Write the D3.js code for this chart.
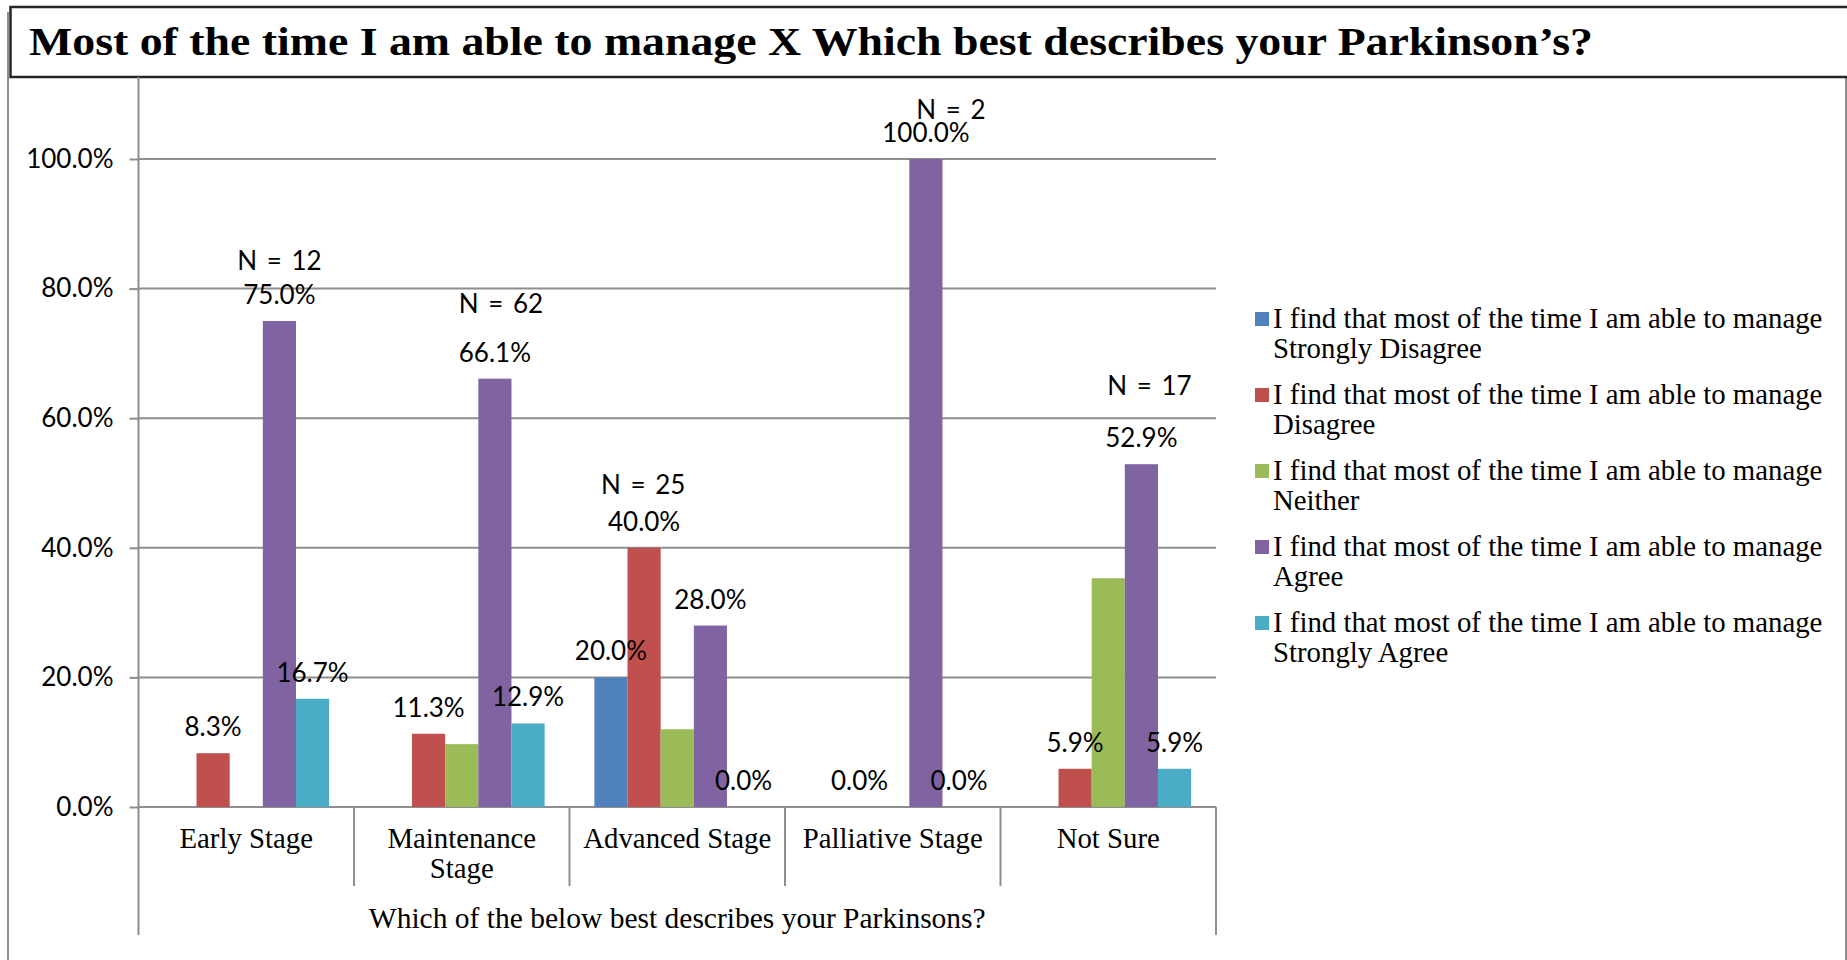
<!DOCTYPE html>
<html>
<head>
<meta charset="utf-8">
<script src="https://cdn.jsdelivr.net/npm/d3@7"></script>
<style>
  html, body { margin: 0; padding: 0; background: #fff; }
  svg { display: block; }
</style>
</head>
<body>
<svg id="chart" width="1847" height="960"></svg>
<script>
// ---- data ----
const categories = ["Early Stage", "Maintenance Stage", "Advanced Stage", "Palliative Stage", "Not Sure"];
const seriesNames = [
  "I find that most of the time I am able to manage Strongly Disagree",
  "I find that most of the time I am able to manage Disagree",
  "I find that most of the time I am able to manage Neither",
  "I find that most of the time I am able to manage Agree",
  "I find that most of the time I am able to manage Strongly Agree"
];
const strongDisagree = [0, 0, 20.0, 0, 0];
const disagree       = [8.3, 11.3, 40.0, 0, 5.9];
const neither        = [0, 9.7, 12.0, 0, 35.3];
const agree          = [75.0, 66.1, 28.0, 100.0, 52.9];
const strongAgree    = [16.7, 12.9, 0, 0, 5.9];
// which bars carry a value label
const strongDisagreeLabelled = [false, false, true, false, false];
const disagreeLabelled       = [true, true, true, true, true];
const neitherLabelled        = [false, false, false, false, false];
const agreeLabelled          = [true, true, true, true, true];
const strongAgreeLabelled    = [true, true, true, true, true];
const sampleSizes = [12, 62, 25, 2, 17];
const yTicks = [0, 20, 40, 60, 80, 100];
const titleText = "Most of the time I am able to manage X Which best describes your Parkinson\u2019s?";
const axisTitle = "Which of the below best describes your Parkinsons?";

// ---- styling / layout ----
const colors = ["#4F81BD", "#C0504D", "#9BBB59", "#8064A2", "#4BACC6"];
const seriesValues = [strongDisagree, disagree, neither, agree, strongAgree];
const seriesLabelled = [strongDisagreeLabelled, disagreeLabelled, neitherLabelled, agreeLabelled, strongAgreeLabelled];
// nudges for the "N = " annotations: [dx, gap above the value label]
const nLabelNudge = [[0, 34], [6, 49], [-1, 37], [25, 23], [8, 52]];

const serif = "'Liberation Serif', 'Times New Roman', serif";
const sans = "Lato, 'Noto Sans', sans-serif";
const serifSize = 28.8;
const gridColor = "#8e8e8e";

const plot = { left: 138.5, right: 1216, top: 159, bottom: 807 };

const svg = d3.select("#chart");
svg.append("rect").attr("width", 1847).attr("height", 960).attr("fill", "#fff");

// outer frame lines
svg.append("line").attr("x1", 8).attr("x2", 8).attr("y1", 12).attr("y2", 960)
  .attr("stroke", gridColor).attr("stroke-width", 2);
svg.append("line").attr("x1", 1846).attr("x2", 1846).attr("y1", 77).attr("y2", 960)
  .attr("stroke", gridColor).attr("stroke-width", 2);

// title box
svg.append("rect").attr("x", 10.5).attr("y", 7).attr("width", 1850).attr("height", 70)
  .attr("fill", "#fff").attr("stroke", "#262626").attr("stroke-width", 2.5);
svg.append("text")
  .attr("x", 29).attr("y", 55)
  .attr("font-family", serif).attr("font-weight", "bold").attr("font-size", 41)
  .attr("textLength", 1564).attr("lengthAdjust", "spacingAndGlyphs")
  .attr("fill", "#000")
  .text(titleText);

// scales
const y = d3.scaleLinear().domain([0, 100]).range([plot.bottom, plot.top]);
const x0 = d3.scaleBand().domain(categories).range([plot.left, plot.right]).paddingInner(0).paddingOuter(0);
const bw = x0.bandwidth();
const x1 = d3.scaleBand().domain(d3.range(seriesNames.length))
  .range([bw * 0.75 / 6.5, bw * 5.75 / 6.5]).padding(0);

// gridlines
svg.append("g").selectAll("line").data(yTicks).join("line")
  .attr("x1", plot.left).attr("x2", plot.right)
  .attr("y1", d => y(d)).attr("y2", d => y(d))
  .attr("stroke", gridColor).attr("stroke-width", 2);

// y axis
const yAxis = svg.append("g").attr("transform", `translate(${plot.left},0)`)
  .call(d3.axisLeft(y).tickValues(yTicks).tickSize(9).tickPadding(16)
    .tickFormat(d => d3.format(".1f")(d) + "%"));
yAxis.select(".domain").remove();
yAxis.selectAll(".tick line").attr("stroke", gridColor).attr("stroke-width", 2);
yAxis.selectAll(".tick text").attr("font-family", sans).attr("font-size", 26).attr("fill", "#000");
svg.append("line").attr("x1", plot.left).attr("x2", plot.left).attr("y1", 77).attr("y2", 935)
  .attr("stroke", gridColor).attr("stroke-width", 2);
svg.append("line").attr("x1", plot.right).attr("x2", plot.right).attr("y1", plot.bottom).attr("y2", 935)
  .attr("stroke", gridColor).attr("stroke-width", 2);

// category separators
const bounds = categories.slice(1).map(c => x0(c));
svg.append("g").selectAll("line").data(bounds).join("line")
  .attr("x1", d => d).attr("x2", d => d)
  .attr("y1", plot.bottom).attr("y2", 886)
  .attr("stroke", gridColor).attr("stroke-width", 2);

// category labels (wrapped when too wide)
const catG = svg.append("g");
categories.forEach(c => {
  const t = catG.append("text")
    .attr("x", x0(c) + bw / 2).attr("y", 848)
    .attr("text-anchor", "middle")
    .attr("font-family", serif).attr("font-size", serifSize).attr("fill", "#000")
    .text(c);
  if (t.node().getComputedTextLength() > bw * 0.93) {
    const words = c.split(" ");
    t.text(null);
    const lines = [];
    let cur = [];
    words.forEach(w => {
      const test = cur.concat([w]).join(" ");
      t.text(test);
      if (t.node().getComputedTextLength() > bw * 0.93 && cur.length) {
        lines.push(cur.join(" "));
        cur = [w];
      } else cur.push(w);
    });
    lines.push(cur.join(" "));
    t.text(null);
    lines.forEach((ln, i) => {
      t.append("tspan").attr("x", x0(c) + bw / 2).attr("dy", i === 0 ? 0 : 30).text(ln);
    });
  }
});

// axis title
svg.append("text")
  .attr("x", (plot.left + plot.right) / 2).attr("y", 928)
  .attr("text-anchor", "middle")
  .attr("font-family", serif).attr("font-size", 29.5).attr("fill", "#000")
  .text(axisTitle);

// bars
const barData = [];
categories.forEach((c, ci) => {
  seriesValues.forEach((vals, si) => {
    barData.push({ c, ci, si, v: vals[ci], labelled: seriesLabelled[si][ci] });
  });
});
svg.append("g").selectAll("rect").data(barData.filter(d => d.v > 0)).join("rect")
  .attr("x", d => x0(d.c) + x1(d.si))
  .attr("width", x1.bandwidth())
  .attr("y", d => y(d.v))
  .attr("height", d => y(0) - y(d.v))
  .attr("fill", d => colors[d.si]);

// value labels
svg.append("g").selectAll("text").data(barData.filter(d => d.labelled)).join("text")
  .attr("x", d => x0(d.c) + x1(d.si) + x1.bandwidth() / 2)
  .attr("y", d => y(d.v) - 17)
  .attr("text-anchor", "middle")
  .attr("font-family", sans).attr("font-size", 26).attr("fill", "#000")
  .text(d => d3.format(".1f")(d.v) + "%");

// sample size annotations above the tallest bar of each group
categories.forEach((c, ci) => {
  const vals = seriesValues.map(s => s[ci]);
  const top = d3.maxIndex(vals);
  const [dx, gap] = nLabelNudge[ci];
  svg.append("text")
    .attr("x", x0(c) + x1(top) + x1.bandwidth() / 2 + dx)
    .attr("y", y(vals[top]) - 17 - gap)
    .attr("text-anchor", "middle")
    .attr("font-family", sans).attr("font-size", 26).attr("fill", "#000")
    .attr("word-spacing", 3)
    .text("N = " + sampleSizes[ci]);
});

// legend
const legend = svg.append("g").attr("transform", "translate(1255,328)");
seriesNames.forEach((name, i) => {
  const g = legend.append("g").attr("transform", `translate(0,${i * 76})`);
  g.append("rect").attr("x", 0).attr("y", -16).attr("width", 14).attr("height", 14).attr("fill", colors[i]);
  const idx = name.indexOf("manage ") + "manage".length;
  const t = g.append("text").attr("font-family", serif).attr("font-size", serifSize).attr("fill", "#000");
  t.append("tspan").attr("x", 18).attr("y", 0).text(name.slice(0, idx));
  t.append("tspan").attr("x", 18).attr("y", 29.5).text(name.slice(idx + 1));
});
</script>
</body>
</html>
